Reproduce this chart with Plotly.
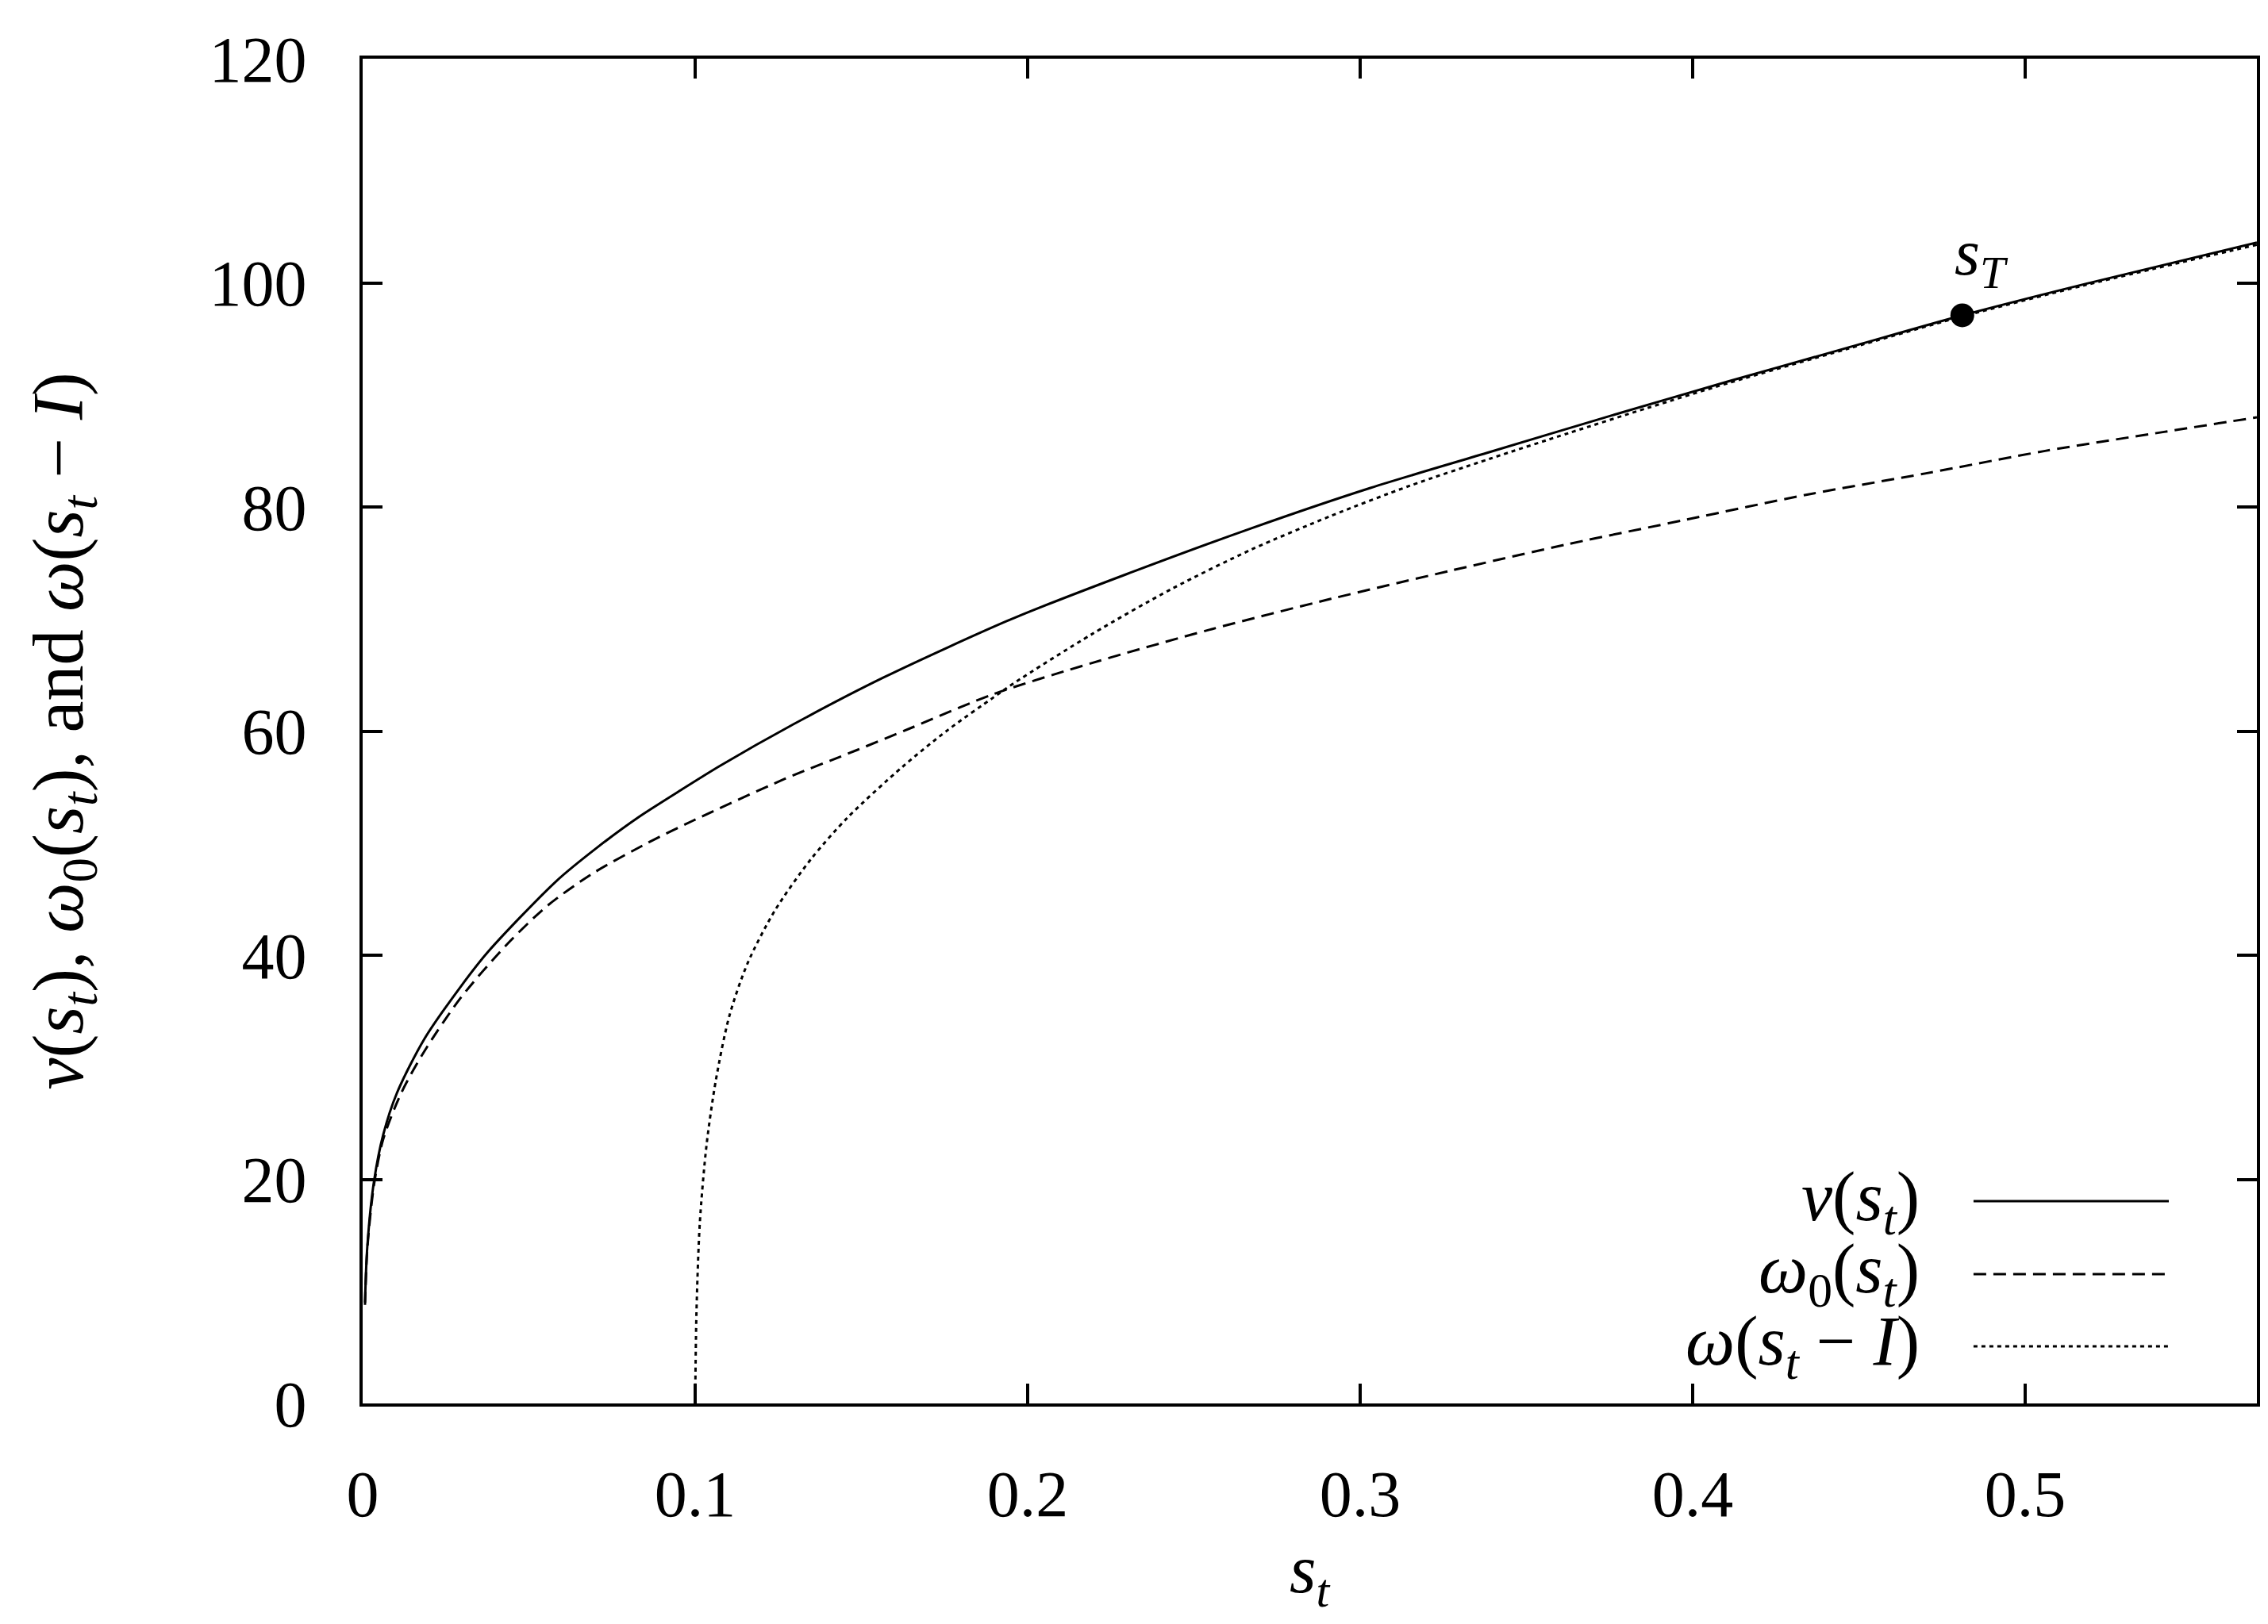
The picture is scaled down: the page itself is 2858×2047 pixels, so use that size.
import plotly.graph_objects as go

# values
s_v = [0.0007, 0.0014, 0.0034, 0.0062, 0.0103, 0.0185, 0.0295, 0.0377, 0.0582, 0.0705,
       0.0829, 0.0966, 0.1075, 0.1295, 0.1568, 0.196, 0.2315, 0.2673, 0.3031, 0.339,
       0.3749, 0.4107, 0.4465, 0.4811, 0.5181, 0.5697]
v = [9.0, 14.0, 19.8, 24.0, 27.7, 32.5, 37.2, 40.3, 46.6, 49.6,
     52.3, 54.9, 56.9, 60.6, 64.8, 70.1, 74.2, 78.1, 81.7, 84.9,
     88.1, 91.2, 94.2, 97.1, 99.9, 103.6]

s_w0 = [0.0007, 0.0014, 0.0034, 0.0062, 0.0116, 0.0185, 0.0295, 0.0432, 0.0555, 0.0692,
        0.0856, 0.0993, 0.1267, 0.1486, 0.1651, 0.1897, 0.2196, 0.2554, 0.2912, 0.327,
        0.3628, 0.3986, 0.4344, 0.4702, 0.506, 0.5418, 0.5697]
w0 = [8.8, 13.8, 19.5, 23.6, 27.7, 31.4, 36.2, 40.9, 44.4, 47.3,
      50.0, 52.0, 55.7, 58.3, 60.3, 63.3, 66.1, 69.1, 71.8, 74.3,
      76.7, 78.9, 81.1, 83.0, 85.0, 86.7, 88.0]

s_w = [0.1, 0.1004, 0.1014, 0.1034, 0.1062, 0.1103, 0.1158, 0.124, 0.1349, 0.1459,
       0.1623, 0.176, 0.1897, 0.196, 0.2196, 0.2434, 0.2673, 0.2912, 0.315, 0.339,
       0.3628, 0.3866, 0.4107, 0.4465, 0.4811, 0.5181, 0.5697]
w = [0.0, 8.2, 16.1, 23.0, 28.8, 34.6, 39.3, 44.0, 48.6, 52.3,
     56.8, 60.1, 63.0, 64.3, 68.7, 72.7, 76.2, 79.2, 81.9, 84.3,
     86.6, 88.85, 91.05, 94.1, 97.0, 99.8, 103.4]

s_T = [0.4811]
v_T = [97.1]

x_ticks = [0, 0.1, 0.2, 0.3, 0.4, 0.5]
y_ticks = [0, 20, 40, 60, 80, 100, 120]

FONT = "Liberation Serif"
FS = 82

fig = go.Figure()
fig.add_trace(go.Scatter(x=s_v, y=v, mode="lines",
                         line=dict(color="black", width=3, shape="spline", smoothing=0.8),
                         showlegend=False))
fig.add_trace(go.Scatter(x=s_w0, y=w0, mode="lines",
                         line=dict(color="black", width=3, dash="16px,9px",
                                   shape="spline", smoothing=0.8),
                         showlegend=False))
fig.add_trace(go.Scatter(x=s_w, y=w, mode="lines",
                         line=dict(color="black", width=3, dash="5px,5px",
                                   shape="spline", smoothing=0.8),
                         showlegend=False))
fig.add_trace(go.Scatter(x=s_T, y=v_T, mode="markers",
                         marker=dict(color="black", size=30), showlegend=False))

fig.add_annotation(x=s_T[0], y=v_T[0], xref="x", yref="y", text="<i>s<sub>T</sub></i>",
                   showarrow=False, xanchor="left", yanchor="bottom", xshift=-12, yshift=20,
                   font=dict(family=FONT, size=FS, color="black"))

# legend drawn gnuplot-style: text on the left, sample on the right
legend_txt = ["<i>v</i>(<i>s<sub>t</sub></i>)",
              "<i>ω</i><sub>0</sub>(<i>s<sub>t</sub></i>)",
              "<i>ω</i>(<i>s<sub>t</sub></i> − <i>I</i>)"]
legend_dash = ["solid", "16px,9px", "5px,5px"]
legend_y = [0.1504, 0.0962, 0.0425]
for txt, dash, ly in zip(legend_txt, legend_dash, legend_y):
    fig.add_annotation(x=0.8228, y=ly, xref="paper", yref="paper", text=txt, showarrow=False,
                       xanchor="right", yanchor="middle",
                       font=dict(family=FONT, size=88, color="black"))
    fig.add_shape(type="line", xref="paper", yref="paper", x0=0.8504, x1=0.9535, y0=ly, y1=ly,
                  line=dict(color="black", width=3, dash=dash))

# axis titles
fig.add_annotation(x=0, y=0.5, xref="paper", yref="paper", xshift=-377, textangle=-90,
                   text="<i>v</i>(<i>s<sub>t</sub></i>), <i>ω</i><sub>0</sub>(<i>s<sub>t</sub></i>), "
                        "and <i>ω</i>(<i>s<sub>t</sub></i> − <i>I</i>)",
                   showarrow=False, xanchor="center", yanchor="middle",
                   font=dict(family=FONT, size=90, color="black"))
fig.add_annotation(x=0.5, y=0, xref="paper", yref="paper", yshift=-215,
                   text="<i>s<sub>t</sub></i>", showarrow=False,
                   xanchor="center", yanchor="middle",
                   font=dict(family=FONT, size=86, color="black"))

axis_common = dict(showline=True, linecolor="black", linewidth=4, mirror="ticks",
                   ticks="inside", ticklen=25, tickwidth=4, tickcolor="black",
                   showgrid=False, zeroline=False,
                   tickfont=dict(family=FONT, size=FS, color="black"))
fig.update_xaxes(range=[0, 0.5697], tickvals=x_ticks, ticktext=[str(t) for t in x_ticks],
                 ticklabelstandoff=40, **axis_common)
fig.update_yaxes(range=[0, 120], tickvals=y_ticks, ticktext=[str(t) for t in y_ticks],
                 ticklabelstandoff=50, **axis_common)

fig.update_layout(width=2858, height=2047, plot_bgcolor="white", paper_bgcolor="white",
                  margin=dict(l=449, r=22, t=66, b=286),
                  font=dict(family=FONT, size=FS, color="black"))

fig.write_html("out.html")
